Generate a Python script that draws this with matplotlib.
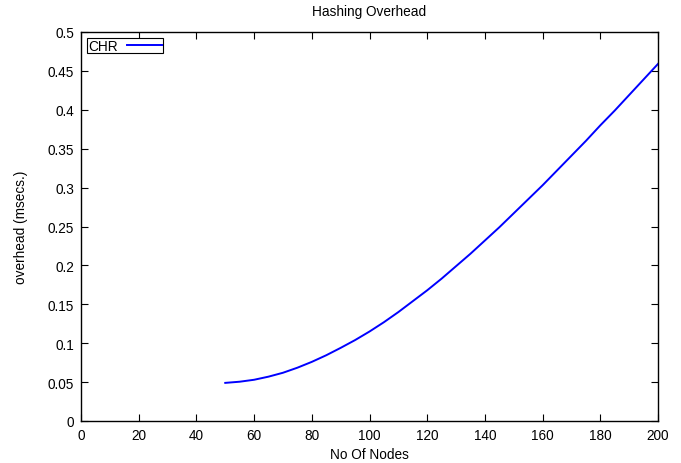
import matplotlib
matplotlib.use("Agg")
import matplotlib.pyplot as plt

plt.rcParams['font.family'] = ['Liberation Sans', 'DejaVu Sans']

nodes = [50, 55, 60, 65, 70, 75, 80, 85, 90, 95, 100, 105, 110, 115, 120, 125, 130,
         135, 140, 145, 150, 155, 160, 165, 170, 175, 180, 185, 190, 195, 200]
overhead = [0.049, 0.0505, 0.053, 0.057, 0.062, 0.0685, 0.076, 0.0845, 0.094, 0.104,
            0.115, 0.127, 0.140, 0.154, 0.168, 0.183, 0.199, 0.215, 0.232, 0.249,
            0.267, 0.285, 0.303, 0.322, 0.341, 0.360, 0.380, 0.399, 0.419, 0.439, 0.459]
xticks = [0, 20, 40, 60, 80, 100, 120, 140, 160, 180, 200]
yticks = [0, 0.05, 0.1, 0.15, 0.2, 0.25, 0.3, 0.35, 0.4, 0.45, 0.5]
ytick_labels = ['0', '0.05', '0.1', '0.15', '0.2', '0.25', '0.3', '0.35', '0.4', '0.45', '0.5']

fig = plt.figure(figsize=(6.81, 4.64), dpi=100)
ax = fig.add_axes([81/681, 42/464, 577/681, 389/464])
ax.plot(nodes, overhead, color='#0000ff', lw=1.4, label='CHR')
ax.set_xlim(0, 200)
ax.set_ylim(0, 0.5)
ax.set_xticks(xticks)
ax.set_yticks(yticks)
ax.set_yticklabels(ytick_labels)
ax.tick_params(direction='in', top=True, right=True, length=5, width=0.8,
               labelsize=9.8, pad=5)
for s in ax.spines.values():
    s.set_linewidth(1.0)
ax.set_title('Hashing Overhead', fontsize=9.8, pad=12)
ax.set_xlabel('No Of Nodes', fontsize=9.8, labelpad=4)
ax.set_ylabel('overhead (msecs.)', fontsize=9.8, labelpad=14)
leg = ax.legend(loc='upper left', markerfirst=False, fancybox=False, edgecolor='black',
                fontsize=9.8, handlelength=2.6, borderpad=0.05, borderaxespad=0.45,
                handletextpad=0.7, framealpha=1)
leg.get_frame().set_linewidth(0.8)
fig.savefig('out.png', dpi=100)
